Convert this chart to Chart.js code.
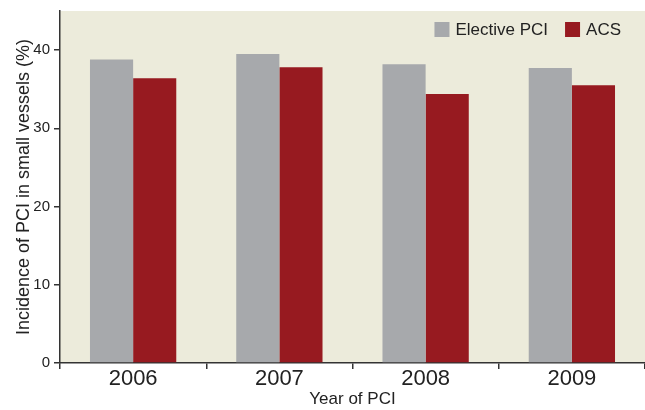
<!DOCTYPE html>
<html>
<head>
<meta charset="utf-8">
<script src="https://cdn.jsdelivr.net/npm/chart.js@4.4.1/dist/chart.umd.min.js"></script>
<style>
  html, body { margin: 0; padding: 0; background: #ffffff; }
  #wrap { width: 645px; height: 410px; position: relative; }
</style>
</head>
<body>
<div id="wrap"><canvas id="c" width="645" height="410"></canvas></div>
<script>
const categories = ['2006', '2007', '2008', '2009'];
const electivePCI = [38.8, 39.5, 38.2, 37.7];
const acs = [36.4, 37.8, 34.4, 35.5];
const seriesNames = ['Elective PCI', 'ACS'];
const yTitle = 'Incidence of PCI in small vessels (%)';
const xTitle = 'Year of PCI';

const fontFam = '"Liberation Sans", Arial, sans-serif';

const plotBg = {
  id: 'plotBg',
  beforeDraw(chart) {
    const { ctx, chartArea: a } = chart;
    ctx.save();
    ctx.fillStyle = '#ECEBDB';
    ctx.fillRect(a.left, a.top, a.right - a.left, a.bottom - a.top);
    ctx.restore();
  }
};

// Legend drawn inside the plot area, top-right, from the datasets
const insideLegend = {
  id: 'insideLegend',
  afterDraw(chart) {
    const { ctx, chartArea: a } = chart;
    const box = 15, gapText = 6, gapItem = 17, rightGap = 24;
    const cy = a.top + 18.5;
    ctx.save();
    ctx.font = '17px ' + fontFam;
    ctx.textBaseline = 'middle';
    const items = chart.data.datasets.map(ds => ({
      label: ds.label, color: ds.backgroundColor, w: ctx.measureText(ds.label).width
    }));
    let total = 0;
    items.forEach((it, i) => { total += box + gapText + it.w + (i < items.length - 1 ? gapItem : 0); });
    let x = a.right - rightGap - total;
    items.forEach(it => {
      ctx.fillStyle = it.color;
      ctx.fillRect(x, cy - box / 2, box, box);
      x += box + gapText;
      ctx.fillStyle = '#222';
      ctx.fillText(it.label, x, cy + 1);
      x += it.w + gapItem;
    });
    ctx.restore();
  }
};

const axisColor = '#333333';

new Chart(document.getElementById('c'), {
  type: 'bar',
  data: {
    labels: categories,
    datasets: [
      { label: seriesNames[0], data: electivePCI, backgroundColor: '#A7A9AC', borderWidth: 0 },
      { label: seriesNames[1], data: acs, backgroundColor: '#971A20', borderWidth: 0 }
    ]
  },
  options: {
    responsive: false,
    animation: false,
    layout: { padding: { top: 11, right: 0, left: 0, bottom: 0 } },
    datasets: { bar: { categoryPercentage: 0.59, barPercentage: 1.0 } },
    plugins: {
      tooltip: { enabled: false },
      legend: { display: false }
    },
    scales: {
      x: {
        offset: true,
        grid: { offset: true, drawOnChartArea: false, drawTicks: true, tickLength: 6, color: axisColor, lineWidth: 1.5 },
        border: { display: true, color: axisColor, width: 1.5 },
        ticks: { color: '#222', font: { family: fontFam, size: 22 }, padding: -3 },
        title: { display: true, text: xTitle, color: '#222', font: { family: fontFam, size: 17 }, padding: { top: 0, bottom: 0 } },
        afterFit(scale) { scale.height = 47; scale.paddingLeft = 0; scale.paddingRight = 0; }
      },
      y: {
        min: 0,
        max: 45,
        grid: { drawOnChartArea: false, drawTicks: true, tickLength: 6, color: axisColor, lineWidth: 1.5 },
        border: { display: true, color: axisColor, width: 1.5 },
        ticks: { stepSize: 10, includeBounds: false, color: '#222', font: { family: fontFam, size: 15 }, padding: 4 },
        title: { display: true, text: yTitle, color: '#222', font: { family: fontFam, size: 18 }, padding: { top: 13, bottom: 0 } },
        afterFit(scale) { scale.width = 60; scale.paddingTop = 0; scale.paddingBottom = 0; }
      }
    }
  },
  plugins: [plotBg, insideLegend]
});
</script>
</body>
</html>
